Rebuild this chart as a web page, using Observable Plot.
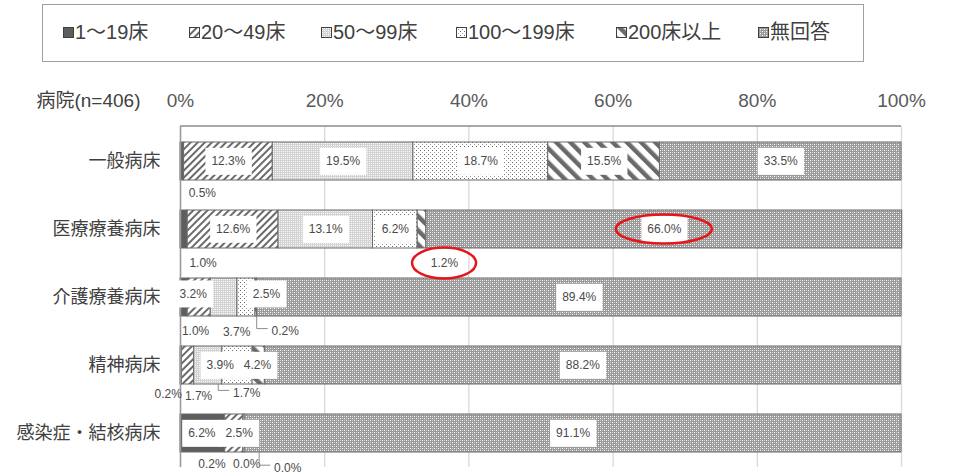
<!DOCTYPE html>
<html>
<head>
<meta charset="utf-8">
<script src="https://cdn.jsdelivr.net/npm/d3@7"></script>
<script src="https://cdn.jsdelivr.net/npm/@observablehq/plot@0.6"></script>
<style>
  body { margin: 0; background: #fff; font-family: 'Liberation Sans', 'Noto Sans CJK JP', sans-serif; }
  #wrap { position: relative; width: 953px; height: 475px; overflow: hidden; }
  #legend { position: absolute; left: 42px; top: 4px; width: 822px; height: 58px; border: 1.5px solid #a0a0a0; box-sizing: border-box; }
  .li { position: absolute; top: 16px; height: 22px; line-height: 22px; font-size: 20px; color: #404040; white-space: nowrap; display: flex; align-items: center; }
  .li svg { margin-right: 1px; }
  #chart { position: absolute; left: 0; top: 70px; }
</style>
</head>
<body>
<svg width="0" height="0" style="position:absolute">
  <defs>
    <pattern id="p1" patternUnits="userSpaceOnUse" width="4" height="4"><rect width="4" height="4" fill="#5e5e5e"/></pattern>
    <pattern id="p2" patternUnits="userSpaceOnUse" width="5" height="5" patternTransform="rotate(45)"><rect width="5" height="5" fill="#fff"/><rect width="2" height="5" fill="#6a6a6a"/></pattern>
    <pattern id="p3" patternUnits="userSpaceOnUse" width="4" height="4"><rect width="4" height="4" fill="#d3d3d3"/><rect x="1" y="1" width="1" height="1" fill="#fff"/><rect x="3" y="3" width="1" height="1" fill="#fff"/><rect x="1" y="3" width="1" height="1" fill="#f2f2f2"/><rect x="3" y="1" width="1" height="1" fill="#f2f2f2"/></pattern>
    <pattern id="p4" patternUnits="userSpaceOnUse" width="4" height="4"><rect width="4" height="4" fill="#fff"/><rect x="0" y="0" width="1" height="1" fill="#6a6a6a"/><rect x="2" y="2" width="1" height="1" fill="#9a9a9a"/></pattern>
    <pattern id="p5" patternUnits="userSpaceOnUse" width="10" height="10" patternTransform="rotate(-45)"><rect width="10" height="10" fill="#fff"/><rect width="4.5" height="10" fill="#6a6a6a"/></pattern>
    <pattern id="p6" patternUnits="userSpaceOnUse" width="4" height="4"><rect width="4" height="4" fill="#9a9a9a"/><rect x="0" y="0" width="1" height="1" fill="#fff"/><rect x="2" y="2" width="1" height="1" fill="#fff"/><rect x="0" y="2" width="1" height="1" fill="#cfcfcf"/><rect x="2" y="0" width="1" height="1" fill="#cfcfcf"/></pattern>
  </defs>
</svg>
<div id="wrap">
  <div id="legend"></div>
  <div id="chart"></div>
</div>
<script>
// ---- data ----
const categories = ["一般病床", "医療療養病床", "介護療養病床", "精神病床", "感染症・結核病床"];
const seriesNames = ["1～19床", "20～49床", "50～99床", "100～199床", "200床以上", "無回答"];
const v1to19    = [0.5, 1.0, 1.0, 0.2, 6.2];
const v20to49   = [12.3, 12.6, 3.2, 1.7, 2.5];
const v50to99   = [19.5, 13.1, 3.7, 3.9, 0.2];
const v100to199 = [18.7, 6.2, 2.5, 4.2, 0.0];
const v200plus  = [15.5, 1.2, 0.2, 1.7, 0.0];
const vNoAnswer = [33.5, 66.0, 89.4, 88.2, 91.1];
const ticks = [0, 20, 40, 60, 80, 100];
const headerText = "病院(n=406)";
const highlighted = [["医療療養病床", "無回答"], ["医療療養病床", "200床以上"]];

// ---- layout of labels (mode, dx, dy in px relative to segment centre) ----
const placements = [
  [["out", 20, 32], ["in", 0, 0], ["in", 0, 0], ["in", 0, 0], ["in", 0, 0], ["in", 0, 0]],
  [["out", 19, 34], ["in", 0, 0], ["in", 0, 0], ["in", 0, 0], ["out", 22.5, 34], ["in", 0, 0]],
  [["out", 11.5, 33.6], ["in", -6, -3.4], ["out", 12.5, 34.6], ["in", 20, -3.4], ["lead", 29, 33.6], ["in", 0, 0]],
  [["out", -13, 28.4], ["out", 10.5, 30.4], ["in", 12, 0], ["in", 20, 0], ["lead", -12, 27.4], ["in", 0, 0]],
  [["in", -1, 0], ["in", 5, 0], ["out", -32, 30.2], ["out", 2, 30.2], ["lead", 43, 34.2], ["in", 0, 0]]
];
const patternIds = seriesNames.map((s, i) => `url(#p${i + 1})`);

const seriesValues = [v1to19, v20to49, v50to99, v100to199, v200plus, vNoAnswer];
const rows = [];
categories.forEach((c, i) => {
  let acc = 0;
  seriesValues.forEach((vals, j) => {
    const v = vals[i];
    const p = placements[i][j];
    rows.push({cat: c, series: seriesNames[j], value: v, x1: acc, x2: acc + v, mid: acc + v / 2,
               mode: p[0], dx: p[1], dy: p[2]});
    acc += v;
  });
});

// ---- legend ----
const legendLefts = [20, 146, 278, 413, 573, 715];
const legend = document.getElementById("legend");
seriesNames.forEach((s, i) => {
  const el = document.createElement("div");
  el.className = "li";
  el.style.left = legendLefts[i] + "px";
  el.innerHTML = `<svg width="11" height="11"><rect x="0.5" y="0.5" width="10" height="10" fill="${patternIds[i]}" stroke="#404040" stroke-width="1"/></svg><span>${s}</span>`;
  legend.appendChild(el);
});

// ---- overlay (top border, leader lines, highlight ellipses) ----
function overlay(...args) {
  let scales, dims;
  if (args[0] && typeof args[0].x === "function") { scales = args[0]; dims = args[1]; }
  else { scales = args[1]; dims = args[3]; }
  const x = scales.x, y = scales.y;
  const bw = y.bandwidth ? y.bandwidth() : 0;
  const g = d3.create("svg:g");
  g.append("line")
    .attr("x1", dims.marginLeft).attr("x2", dims.width - dims.marginRight)
    .attr("y1", dims.marginTop).attr("y2", dims.marginTop)
    .attr("stroke", "#a8a8a8").attr("stroke-width", 2);
  rows.filter(r => r.mode === "lead").forEach(r => {
    const cx = x(r.mid) + r.dx, cy = y(r.cat) + bw / 2 + r.dy;
    const lx = cx - 28, yb = y(r.cat) + bw;
    g.append("path").attr("d", `M${lx},${yb}V${cy - 2}H${cx - 17}`)
      .attr("fill", "none").attr("stroke", "#8c8c8c").attr("stroke-width", 1);
  });
  highlighted.forEach(([c, s]) => {
    const r = rows.find(d => d.cat === c && d.series === s);
    const cx = x(r.mid) + r.dx, cy = y(r.cat) + bw / 2 + r.dy;
    const big = r.mode === "in";
    g.append("ellipse").attr("cx", cx).attr("cy", cy)
      .attr("rx", big ? 48 : 32).attr("ry", big ? 14.5 : 15.5)
      .attr("fill", "none").attr("stroke", "#e8141b").attr("stroke-width", 2.5);
  });
  return g.node();
}

const labelMarks = rows.map(r => Plot.text([r], {
  x: "mid", y: "cat", text: d => d.value.toFixed(1) + "%",
  dx: r.dx, dy: r.dy, fontSize: 12, fill: "#4a4a4a",
  ariaDescription: r.mode === "in" ? "boxed" : "plain"
}));

const plot = Plot.plot({
  width: 953, height: 405,
  marginLeft: 180, marginRight: 52, marginTop: 56, marginBottom: 8,
  style: {background: "transparent", fontFamily: "'Liberation Sans', 'Noto Sans CJK JP', sans-serif", overflow: "visible"},
  x: {domain: [0, 100], axis: null},
  y: {domain: categories, axis: null, paddingInner: 0.444, paddingOuter: 0.222},
  color: {type: "ordinal", domain: seriesNames, range: patternIds},
  marks: [
    Plot.ruleX(ticks, {x: d => d, stroke: "#d9d9d9", strokeWidth: 1.3}),
    Plot.barX(rows, {x1: "x1", x2: "x2", y: "cat", fill: "series", stroke: "#6a6a6a", strokeWidth: 1}),
    Plot.ruleX([0], {x: d => d, stroke: "#9a9a9a", strokeWidth: 1.5}),
    Plot.text(ticks, {x: d => d, text: d => d + "%", frameAnchor: "top", dy: -26, lineAnchor: "middle", fontSize: 19, fill: "#595959"}),
    Plot.text([headerText], {text: d => d, frameAnchor: "top-left", dx: -40, dy: -26, textAnchor: "end", lineAnchor: "middle", fontSize: 19, fill: "#404040"}),
    Plot.text(categories, {y: d => d, text: d => d, frameAnchor: "left", dx: -20, textAnchor: "end", fontSize: 18, fill: "#404040"}),
    ...labelMarks,
    overlay
  ]
});
document.getElementById("chart").appendChild(plot);

// white boxes behind in-bar labels
plot.querySelectorAll('g[aria-description="boxed"] text').forEach(t => {
  const bb = t.getBBox();
  const r = document.createElementNS("http://www.w3.org/2000/svg", "rect");
  const cy = bb.y + bb.height / 2;
  r.setAttribute("x", bb.x - 6);
  r.setAttribute("y", cy - 13.5);
  r.setAttribute("width", bb.width + 12);
  r.setAttribute("height", 27);
  r.setAttribute("fill", "#fff");
  if (t.getAttribute("transform")) r.setAttribute("transform", t.getAttribute("transform"));
  t.parentNode.insertBefore(r, t);
});
</script>
</body>
</html>
